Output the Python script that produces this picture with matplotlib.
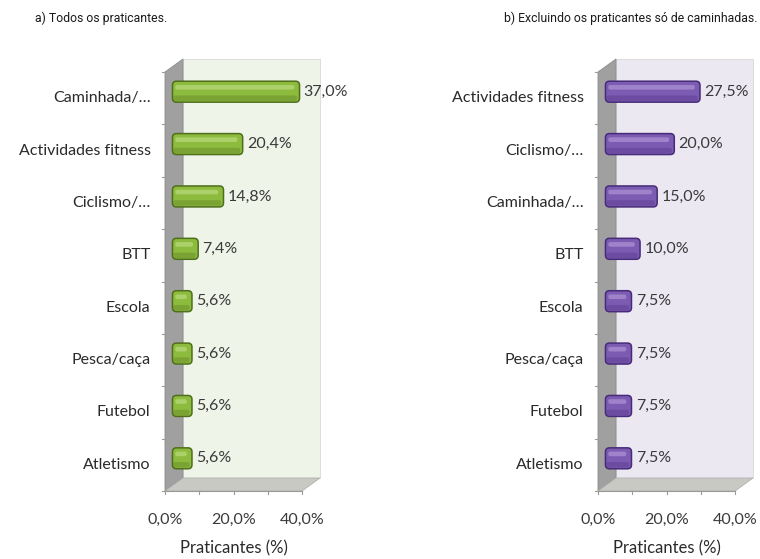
import matplotlib
matplotlib.use('Agg')
import matplotlib.pyplot as plt
from matplotlib.patches import Polygon, FancyBboxPatch
from matplotlib.transforms import offset_copy

cats_a = ['Caminhada/…', 'Actividades fitness', 'Ciclismo/…', 'BTT',
          'Escola', 'Pesca/caça', 'Futebol', 'Atletismo']
vals_a = [37.0, 20.4, 14.8, 7.4, 5.6, 5.6, 5.6, 5.6]

cats_b = ['Actividades fitness', 'Ciclismo/…', 'Caminhada/…', 'BTT',
          'Escola', 'Pesca/caça', 'Futebol', 'Atletismo']
vals_b = [27.5, 20.0, 15.0, 10.0, 7.5, 7.5, 7.5, 7.5]

xticks = [0, 20, 40]
xtick_labels = ['0,0%', '20,0%', '40,0%']

W, H = 760, 559
DX, DY = 18, 13          # depth of the 3d box, px
font = ['Lato', 'DejaVu Sans']
narrow = ['Roboto', 'DejaVu Sans']

fig = plt.figure(figsize=(W / 100, H / 100), dpi=100)


def panel(x0, cats, vals, wall, face, edge, light):
    # axes front plane: x0..x0+137 px, y 72..491 px (from top)
    ax = fig.add_axes([x0 / W, (H - 491) / H, 137 / W, 419 / H])
    n = len(cats)
    ax.set_xlim(0, 40)
    ax.set_ylim(n - 0.5, -0.5)
    ax.axis('off')
    pxx = 137 / 40.0       # px per x unit
    pxy = 419.0 / n        # px per category
    ddx = DX / pxx
    ddy = DY / pxy

    # back wall
    ax.add_patch(Polygon([(ddx, -0.5 - ddy), (40 + ddx, -0.5 - ddy),
                          (40 + ddx, n - 0.5 - ddy), (ddx, n - 0.5 - ddy)],
                         closed=True, fc=wall, ec='#d8d8d8', lw=0.6,
                         clip_on=False, zorder=0))
    # left wall
    ax.add_patch(Polygon([(0, -0.5), (ddx, -0.5 - ddy),
                          (ddx, n - 0.5 - ddy), (0, n - 0.5)],
                         closed=True, fc='#a0a0a0', ec='#8c8c8c', lw=0.6,
                         clip_on=False, zorder=1))
    # floor
    ax.add_patch(Polygon([(0, n - 0.5), (40, n - 0.5),
                          (40 + ddx, n - 0.5 - ddy), (ddx, n - 0.5 - ddy)],
                         closed=True, fc='#c9c9c3', ec='#b0b0b0', lw=0.6,
                         clip_on=False, zorder=1))

    # bars, half-way into the box, drawn as rounded cylinders
    tr = offset_copy(ax.transData, fig=fig, x=DX / 2, y=DY / 2, units='dots')
    ys = list(range(n))
    bars = ax.barh(ys, vals, height=0.4, color=face, linewidth=0, zorder=3)
    r = 4.0 / pxx
    asp = pxx / pxy
    for b in bars:
        x, y, w, h = b.get_x(), b.get_y(), b.get_width(), b.get_height()
        b.set_visible(False)
        body = FancyBboxPatch((x + r * 0.3 - 0.8, y), w - r * 0.6 + 0.8, h,
                              boxstyle='round,pad=0,rounding_size=%f' % r,
                              mutation_aspect=asp, fc=face, ec=edge, lw=1.1,
                              transform=tr, clip_on=False, zorder=3)
        ax.add_patch(body)
        shine = FancyBboxPatch((x + r - 0.8, y + h * 0.18),
                               max(w - 2.6 * r + 0.8, 0.2), h * 0.22,
                               boxstyle='round,pad=0,rounding_size=%f' % (r * 0.5),
                               mutation_aspect=asp, fc=light, ec='none',
                               alpha=0.45, transform=tr, clip_on=False,
                               zorder=4)
        ax.add_patch(shine)
        shade = FancyBboxPatch((x + r * 0.5 - 0.8, y + h * 0.68),
                               w - r * 1.4 + 0.8, h * 0.26,
                               boxstyle='round,pad=0,rounding_size=%f' % (r * 0.5),
                               mutation_aspect=asp, fc=edge, ec='none',
                               alpha=0.3, transform=tr, clip_on=False,
                               zorder=4)
        ax.add_patch(shade)

    tr_lab = offset_copy(ax.transData, fig=fig, x=DX / 2 + 3, y=DY / 2,
                         units='dots')
    for y, v in zip(ys, vals):
        ax.text(v, y, ('%.1f%%' % v).replace('.', ','), transform=tr_lab,
                ha='left', va='center', fontsize=11.5, color='#3a3a3a',
                family=font, clip_on=False, zorder=5)

    # category labels and boundary ticks
    for y, c in zip(ys, cats):
        ax.text(-4.2, y, c, ha='right', va='center', fontsize=11.5,
                color='#2a2a2a', family=font, clip_on=False)
    for y in range(n + 1):
        ax.plot([-0.9, 0], [y - 0.5, y - 0.5], color='#9a9a9a', lw=0.8,
                clip_on=False, zorder=2)

    # x ticks on front floor edge
    for x in range(0, 41, 10):
        ax.plot([x, x], [n - 0.5, n - 0.5 + 0.06], color='#9a9a9a', lw=0.8,
                clip_on=False, zorder=2)
    ax.plot([0, 40], [n - 0.5, n - 0.5], color='#9a9a9a', lw=0.8,
            clip_on=False, zorder=2)
    for x, lab in zip(xticks, xtick_labels):
        ax.text(x, n - 0.5 + 0.55, lab, ha='center', va='center',
                fontsize=11.5, color='#3a3a3a', family=font, clip_on=False)
    ax.text(20, n - 0.5 + 1.1, 'Praticantes (%)', ha='center', va='center',
            fontsize=12, color='#2a2a2a', family=font, clip_on=False)
    return ax


panel(165, cats_a, vals_a, '#eff4e8', '#8dbb3e', '#4f6e1c', '#d4eea0')
panel(598, cats_b, vals_b, '#ebe8f2', '#7c5bb2', '#472b78', '#c8b4ea')

fig.text(35 / W, 1 - 18 / H, 'a) Todos os praticantes.', ha='left',
         va='center', fontsize=8.8, color='#1a1a1a', family=narrow)
fig.text(757 / W, 1 - 18 / H, 'b) Excluindo os praticantes só de caminhadas.',
         ha='right', va='center', fontsize=8.8, color='#1a1a1a',
         family=narrow)

fig.savefig('out.png', dpi=100)
